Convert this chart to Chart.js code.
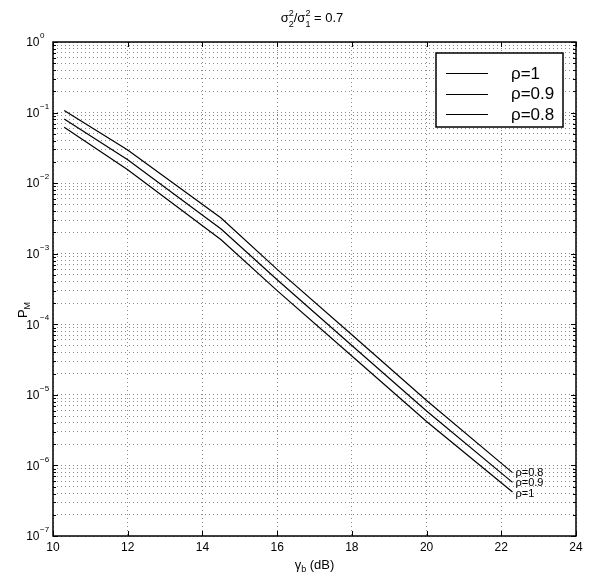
<!DOCTYPE html>
<html><head><meta charset="utf-8">
<script src="https://cdn.jsdelivr.net/npm/chart.js@4/dist/chart.umd.min.js"></script>
<style>html,body{margin:0;padding:0;background:#fff}</style>
</head><body>
<canvas id="c" width="590" height="576"></canvas>
<script>
// ---- data ----
const gammaDb = [10.3, 12, 14.5, 16, 18, 20, 22.3];
const pmRho1  = [0.062, 0.0155, 1.58e-3, 3.0e-4, 3.55e-5, 4.2e-6, 4.2e-7];
const pmRho09 = [0.081, 0.0214, 2.24e-3, 4.27e-4, 5.0e-5, 5.9e-6, 5.75e-7];
const pmRho08 = [0.107, 0.0295, 3.2e-3, 6.0e-4, 7.1e-5, 8.3e-6, 7.9e-7];
const seriesLabels = ['ρ=1', 'ρ=0.9', 'ρ=0.8'];
const xTickValues = [10, 12, 14, 16, 18, 20, 22, 24];
const yDecades = [0, -1, -2, -3, -4, -5, -6, -7];
const titleRatio = '0.7';

const FONT = '"Liberation Sans", Arial, Helvetica, sans-serif';
const series = [pmRho1, pmRho09, pmRho08];

function pts(arr){ return gammaDb.map((x,i)=>({x:x, y:arr[i]})); }

const decor = {
  id: 'decor',
  afterDraw(chart){
    const ctx = chart.ctx, a = chart.chartArea;
    const xs = chart.scales.x, ys = chart.scales.y;
    ctx.save();
    ctx.fillStyle = '#000'; ctx.strokeStyle = '#000';
    // ticks (inward)
    ctx.lineWidth = 1;
    ctx.beginPath();
    xTickValues.forEach(v=>{
      const px = Math.round(xs.getPixelForValue(v))+0.5;
      ctx.moveTo(px, a.bottom); ctx.lineTo(px, a.bottom-5);
      ctx.moveTo(px, a.top); ctx.lineTo(px, a.top+5);
    });
    yDecades.forEach(e=>{
      for(let m=1;m<=9;m++){
        if(e===0 && m>1) break;
        const v = m*Math.pow(10,e);
        const py = Math.round(ys.getPixelForValue(v))+0.5;
        const len = m===1?5:3;
        ctx.moveTo(a.left, py); ctx.lineTo(a.left+len, py);
        ctx.moveTo(a.right, py); ctx.lineTo(a.right-len, py);
      }
    });
    ctx.stroke();
    // box
    ctx.lineWidth = 1.5;
    ctx.strokeRect(a.left, a.top, a.right-a.left, a.bottom-a.top);

    // x tick labels
    ctx.font = '12px '+FONT;
    ctx.textAlign = 'center'; ctx.textBaseline = 'top';
    xTickValues.forEach(v=>{
      ctx.fillText(String(v), xs.getPixelForValue(v), a.bottom+6);
    });
    // y tick labels 10^e
    yDecades.forEach(e=>{
      const py = ys.getPixelForValue(Math.pow(10,e));
      ctx.font = '12px '+FONT;
      ctx.textAlign = 'right'; ctx.textBaseline = 'middle';
      ctx.fillText('10', 39.5, py+1);
      ctx.font = '8px '+FONT;
      ctx.textAlign = 'left';
      ctx.fillText(e===0?'0':'\u2212'+(-e), 40, py-6);
    });

    // x axis title  gamma_b (dB)
    ctx.textBaseline = 'alphabetic'; ctx.textAlign = 'left';
    const g = 'γ', rest = ' (dB)';
    ctx.font = '9px '+FONT; const wb = ctx.measureText('b').width;
    ctx.font = '13px '+FONT;
    const wg = ctx.measureText(g).width, wr = ctx.measureText(rest).width;
    let x0 = (a.left+a.right)/2 - (wg+wb+wr)/2, by = 569;
    ctx.fillText(g, x0, by);
    ctx.font = '9px '+FONT; ctx.fillText('b', x0+wg, by+3);
    ctx.font = '13px '+FONT; ctx.fillText(rest, x0+wg+wb, by);

    // y axis title P_M
    ctx.save();
    ctx.translate(27, 310);
    ctx.rotate(-Math.PI/2);
    ctx.font = '13px '+FONT;
    const wp = ctx.measureText('P').width;
    ctx.font = '9px '+FONT; const wm = ctx.measureText('M').width;
    const sx = -(wp+wm)/2;
    ctx.font = '13px '+FONT; ctx.fillText('P', sx, 0);
    ctx.font = '9px '+FONT; ctx.fillText('M', sx+wp, 3);
    ctx.restore();

    // title sigma_2^2 / sigma_1^2 = 0.7
    const parts = [
      {t:'σ', f:13, dy:0},
      {t:'2', f:9, dy:-6, sub:'2'},
      {t:'/σ', f:13, dy:0},
      {t:'2', f:9, dy:-6, sub:'1'},
      {t:' = '+titleRatio, f:13, dy:0}
    ];
    let tw = 0;
    parts.forEach(p=>{ ctx.font = p.f+'px '+FONT; p.w = ctx.measureText(p.t).width; tw += p.w; });
    let tx = 312 - tw/2; const tb = 22;
    ctx.textAlign = 'left'; ctx.textBaseline = 'alphabetic';
    parts.forEach(p=>{
      ctx.font = p.f+'px '+FONT;
      ctx.fillText(p.t, tx, tb+p.dy);
      if(p.sub) ctx.fillText(p.sub, tx, tb+5);
      tx += p.w;
    });

    // end-of-curve labels
    ctx.font = '11px '+FONT; ctx.textBaseline = 'middle'; ctx.textAlign = 'left';
    const last = gammaDb.length-1;
    const lx = xs.getPixelForValue(gammaDb[last]) + 3;
    ctx.fillText(seriesLabels[2], lx, ys.getPixelForValue(pmRho08[last]));
    ctx.fillText(seriesLabels[1], lx, ys.getPixelForValue(pmRho09[last])+1);
    ctx.fillText(seriesLabels[0], lx, ys.getPixelForValue(pmRho1[last])+2);

    // legend box
    const L = {x:436, y:53, w:127, h:74};
    ctx.fillStyle = '#fff';
    ctx.fillRect(L.x, L.y, L.w, L.h);
    ctx.lineWidth = 1.5; ctx.strokeStyle = '#000';
    ctx.strokeRect(L.x, L.y, L.w, L.h);
    ctx.fillStyle = '#000';
    ctx.font = '17px '+FONT; ctx.textBaseline = 'middle';
    seriesLabels.forEach((lab,i)=>{
      const yy = 73 + i*20.5;
      ctx.lineWidth = 1.2;
      ctx.beginPath(); ctx.moveTo(446, Math.round(yy)+0.5); ctx.lineTo(488, Math.round(yy)+0.5); ctx.stroke();
      ctx.fillText(lab, 511, yy+1);
    });
    ctx.restore();
  }
};

const gridCfg = {color:'#8a8a8a', lineWidth:1, drawTicks:false};
new Chart(document.getElementById('c'), {
  type: 'line',
  data: {
    datasets: series.map((arr,i)=>({
      label: seriesLabels[i],
      data: pts(arr),
      borderColor: '#000',
      borderWidth: 1.2,
      pointRadius: 0,
      fill: false,
      tension: 0
    }))
  },
  options: {
    responsive: false,
    animation: false,
    devicePixelRatio: 1,
    layout: {padding: {left: 53, right: 14, top: 42, bottom: 40}},
    plugins: {legend: {display:false}, tooltip: {enabled:false}, title:{display:false}},
    scales: {
      x: {
        type: 'linear', min: 10, max: 24,
        ticks: {display:false, stepSize: 2},
        afterBuildTicks: s => { s.ticks = xTickValues.map(v=>({value:v})); },
        grid: gridCfg,
        border: {display:false, dash:[1,3]}
      },
      y: {
        type: 'logarithmic', min: 1e-7, max: 1,
        ticks: {display:false},
        afterBuildTicks: s => {
          const t = [];
          yDecades.forEach(e=>{ for(let m=1;m<=9;m++){ const v=m*Math.pow(10,e); if(v<=1) t.push({value:v}); } });
          s.ticks = t;
        },
        grid: gridCfg,
        border: {display:false, dash:[1,3]}
      }
    }
  },
  plugins: [decor]
});
</script>
</body></html>
